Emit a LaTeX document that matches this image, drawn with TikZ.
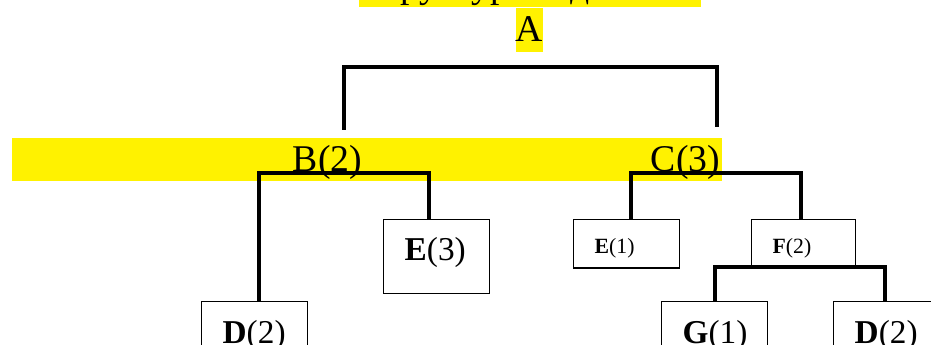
\documentclass[tikz,border=0pt]{standalone}
\usepackage{fontspec}
\setmainfont{Liberation Serif}
\tikzset{
  part/.style={draw, line width=1pt, anchor=north west, inner xsep=15.75pt, inner ysep=0pt,
    text width=48pt, align=left, text height=31pt, text depth=24.5pt,
    font=\fontsize{25}{30}\selectfont},
  smallpart/.style={part, text height=25pt, text depth=11.3pt, font=\fontsize{16.3}{19}\selectfont},
  tie/.style={line width=2.4pt},
  level/.style={inner sep=0pt, anchor=base, font=\fontsize{28.3}{34}\selectfont},
  marker/.style={fill=yellow},
}
\begin{document}
\begin{tikzpicture}[x=0.75pt, y=-0.75pt]
    \clip (0,0) rectangle (931,345);
    \fill[marker] (359,-10) rectangle (701,7);
    \fill[marker] (516,8) rectangle (543,52);
    \fill[marker] (12,138) rectangle (722,181);
    \node[level, anchor=base west] (title) at (359,-2) {Структура изделия};
    \node[level] (a) at (529.5,42) {A};
    \node[level] (b) at (327.5,172) {B(2)};
    \node[level] (c) at (685.5,172) {C(3)};
    \node[part] (d1) at (201,301) {\textbf{D}(2)};
    \node[part] (e3) at (383,219) {\textbf{E}(3)};
    \node[smallpart] (e1) at (573,219) {\textbf{E}(1)};
    \node[smallpart, text width=46.5pt] (f2) at (751,219) {\textbf{F}(2)};
    \node[part] (g1) at (661,301) {\textbf{G}(1)};
    \node[part] (d2) at (833,301) {\textbf{D}(2)};
    \coordinate (ab) at (344,130);
    \coordinate (ac) at (717,127);
    \coordinate (atop) at (530,67);
    \coordinate (bl) at (259,173);
    \coordinate (br) at (429,173);
    \coordinate (cl) at (631,173);
    \coordinate (cr) at (801,173);
    \coordinate (fl) at (715,267);
    \coordinate (fr) at (885,267);
    \draw[tie] (ab) |- (atop) -| (ac);
    \draw[tie] (d1.north -| bl) -- (bl) -- (br) -- (e3.north -| br);
    \draw[tie] (e1.north -| cl) -- (cl) -- (cr) -- (f2.north -| cr);
    \draw[tie] (g1.north -| fl) -- (fl) -- (fr) -- (d2.north -| fr);
  \end{tikzpicture}
\end{document}
